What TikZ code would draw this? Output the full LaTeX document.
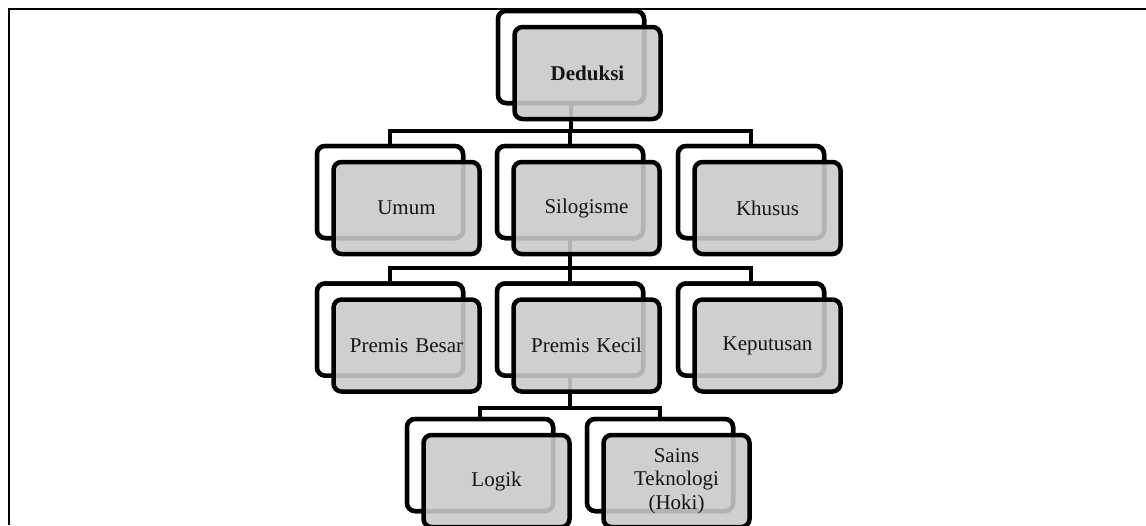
\documentclass[tikz,border=0pt]{standalone}
\usepackage{fontspec}
\setmainfont{Liberation Serif}
\begin{document}
\begin{tikzpicture}[x=1pt,y=-1pt,
  backframe/.style={draw=black, line width=4.5pt, rounded corners=8pt, fill=white,
    minimum width=146pt, minimum height=92pt, inner sep=0pt},
  frontbox/.style={draw=black, line width=4.5pt, rounded corners=8pt,
    fill={rgb,255:red,202;green,202;blue,202}, fill opacity=0.89, text opacity=1,
    minimum width=146pt, minimum height=92pt, inner sep=2pt, align=center,
    text width=140pt, font=\fontsize{21}{23.5}\selectfont, text={rgb,255:red,20;green,20;blue,20}},
  link/.style={draw=black, line width=4.5pt},
  pageframe/.style={draw=black, line width=2pt}
]
\useasboundingbox (0,0) rectangle (1146,525);
\begin{scope}
\clip (0,0) rectangle (1146,525);

% page frame (top and left edges)
\coordinate (pf-r) at (1146,9);
\coordinate (pf-c) at (8.5,9);
\coordinate (pf-b) at (8.5,525);
\draw[pageframe] (pf-r) -- (pf-c) -- (pf-b);

% rails of the tree
\coordinate (bar1) at (0,131);
\coordinate (bar2) at (0,268);
\coordinate (bar3) at (0,408);

% back frames (positions only; drawn later)
\path (571,57)    node[backframe] (b-ded) {};
\path (390,192)   node[backframe] (b-umum) {};
\path (570,192)   node[backframe] (b-silo) {};
\path (751,192)   node[backframe] (b-khus) {};
\path (390,329.5) node[backframe] (b-besar) {};
\path (570,329.5) node[backframe] (b-kecil) {};
\path (751,329.5) node[backframe] (b-kep) {};
\path (480,465)   node[backframe] (b-logik) {};
\path (660,465)   node[backframe] (b-sains) {};

% connectors
\draw[link] (b-ded.south) -- (b-ded.south |- bar1);
\draw[link] (b-umum.north) |- (b-ded.south |- bar1) -| (b-khus.north);
\draw[link] (b-silo.north) -- (b-silo.north |- bar1);

\draw[link] (b-silo.south) -- (b-silo.south |- bar2);
\draw[link] (b-besar.north) |- (b-silo.south |- bar2) -| (b-kep.north);
\draw[link] (b-kecil.north) -- (b-kecil.north |- bar2);

\draw[link] (b-kecil.south) -- (b-kecil.south |- bar3);
\draw[link] (b-logik.north) |- (b-kecil.south |- bar3) -| (b-sains.north);

% boxes: white back frame, translucent grey front box
\path (571,57)    node[backframe] {} ++(16.5,16) node[frontbox] (f-ded)   {\textbf{Deduksi}};
\path (390,192)   node[backframe] {} ++(16.5,16) node[frontbox] (f-umum)  {Umum};
\path (570,192)   node[backframe] {} ++(16.5,16) node[frontbox] (f-silo)  {Silogisme};
\path (751,192)   node[backframe] {} ++(16.5,16) node[frontbox] (f-khus)  {Khusus};
\path (390,329.5) node[backframe] {} ++(16.5,16) node[frontbox] (f-besar) {Premis Besar};
\path (570,329.5) node[backframe] {} ++(16.5,16) node[frontbox] (f-kecil) {Premis Kecil};
\path (751,329.5) node[backframe] {} ++(16.5,16) node[frontbox] (f-kep)   {Keputusan};
\path (480,465)   node[backframe] {} ++(16.5,16) node[frontbox] (f-logik) {Logik};
\path (660,465)   node[backframe] {} ++(16.5,16) node[frontbox] (f-sains) {Sains\\Teknologi\\(Hoki)};
\end{scope}
\end{tikzpicture}
\end{document}
